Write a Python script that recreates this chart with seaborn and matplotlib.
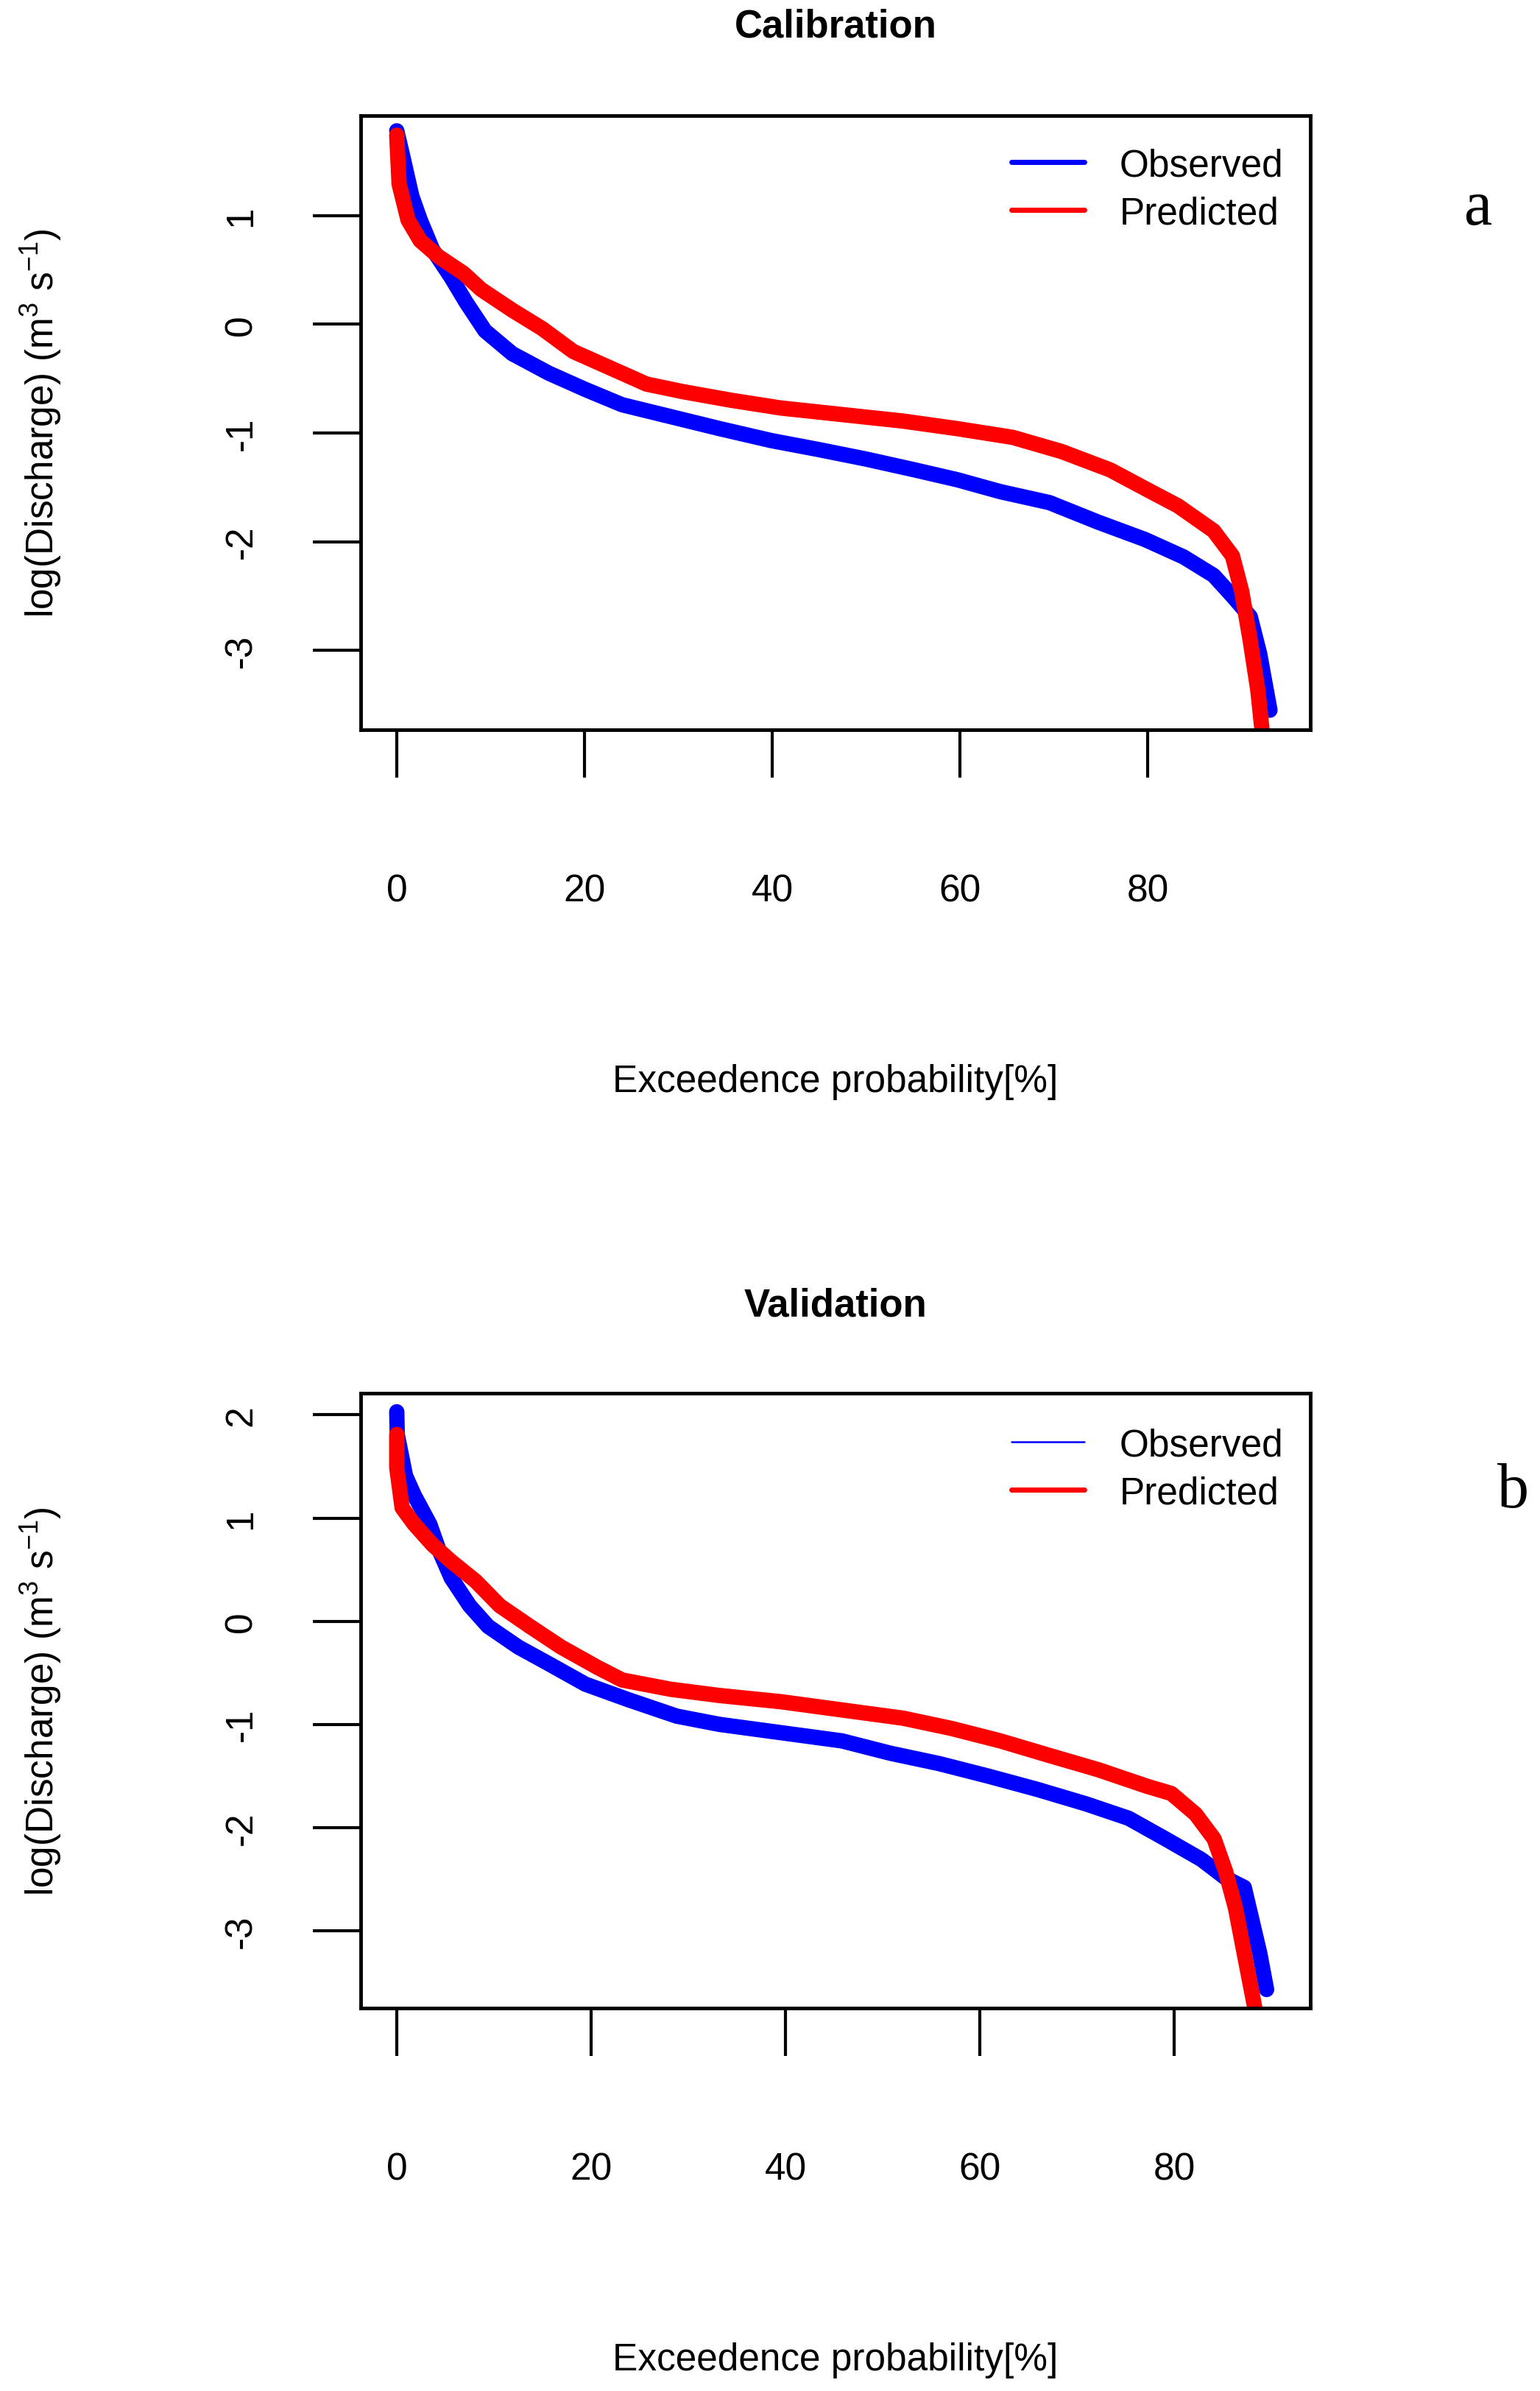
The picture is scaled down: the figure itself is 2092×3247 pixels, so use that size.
import matplotlib
matplotlib.use("Agg")
import matplotlib.pyplot as plt
from matplotlib.lines import Line2D
import seaborn as sns

# ── DATA ────────────────────────────────────────────────────────
# Calibration panel
cal_obs_x = [0, 0.6, 1.6, 2.5, 3.8, 5.8, 7.4, 9.4, 12.3, 16.2, 20.1, 24.0, 29.2,
             34.4, 39.9, 44.8, 50.0, 55.2, 59.7, 64.3, 69.5, 74.7, 79.7, 83.8,
             87.0, 89.0, 90.9, 91.9, 93.0]
cal_obs_y = [1.78, 1.56, 1.18, 0.96, 0.69, 0.43, 0.20, -0.06, -0.27, -0.45, -0.60,
             -0.74, -0.85, -0.96, -1.07, -1.15, -1.24, -1.34, -1.43, -1.54, -1.64,
             -1.82, -1.98, -2.14, -2.31, -2.50, -2.69, -3.03, -3.55]
cal_pred_x = [0, 0.25, 1.2, 2.5, 4.5, 7.1, 9.0, 12.3, 15.5, 18.8, 22.7, 26.6, 30.5,
              35.7, 40.9, 47.4, 53.9, 59.7, 65.6, 70.8, 76.0, 79.9, 83.2, 87.0,
              89.0, 90.0, 90.9, 91.7, 92.3]
cal_pred_y = [1.74, 1.29, 0.96, 0.77, 0.62, 0.47, 0.32, 0.13, -0.04, -0.25, -0.40,
              -0.55, -0.62, -0.70, -0.77, -0.83, -0.89, -0.96, -1.04, -1.17, -1.34,
              -1.52, -1.67, -1.90, -2.13, -2.46, -2.91, -3.36, -3.85]

# Validation panel
val_obs_x = [0, 0.05, 0.9, 1.8, 3.4, 4.3, 5.6, 7.5, 9.4, 12.5, 15.6, 19.4, 23.8,
             28.8, 33.2, 39.5, 45.8, 50.8, 55.8, 60.8, 65.9, 70.9, 75.3, 79.1,
             82.8, 85.3, 87.2, 87.8, 88.8, 89.5]
val_obs_y = [2.03, 1.81, 1.41, 1.22, 0.94, 0.70, 0.42, 0.15, -0.05, -0.25, -0.41,
             -0.61, -0.76, -0.92, -1.00, -1.08, -1.16, -1.28, -1.38, -1.50, -1.63,
             -1.77, -1.91, -2.11, -2.31, -2.49, -2.58, -2.82, -3.22, -3.57]
val_pred_x = [0, 0, 0.55, 1.8, 3.7, 5.6, 8.1, 10.6, 13.7, 16.9, 20.7, 23.2, 28.2,
              33.2, 39.5, 45.8, 52.1, 57.1, 62.1, 67.1, 72.2, 77.2, 79.7, 82.2,
              84.1, 85.3, 86.3, 87.2, 88.5]
val_pred_y = [1.81, 1.49, 1.10, 0.94, 0.74, 0.58, 0.39, 0.15, -0.05, -0.25, -0.45,
              -0.57, -0.66, -0.72, -0.78, -0.86, -0.94, -1.04, -1.16, -1.30, -1.44,
              -1.60, -1.67, -1.87, -2.11, -2.43, -2.78, -3.22, -3.85]

x_ticks = [0, 20, 40, 60, 80]
cal_y_ticks = [-3, -2, -1, 0, 1]
val_y_ticks = [-3, -2, -1, 0, 1, 2]

series_labels = ["Observed", "Predicted"]
series_colors = ["#0000FF", "#FF0000"]

# ── STYLE ───────────────────────────────────────────────────────
sns.set_style("white")
plt.rcParams["font.family"] = ["Liberation Sans", "DejaVu Sans"]
plt.rcParams["mathtext.fontset"] = "custom"
plt.rcParams["mathtext.rm"] = "Liberation Sans"
plt.rcParams["mathtext.it"] = "Liberation Sans:italic"
plt.rcParams["mathtext.bf"] = "Liberation Sans:bold"
for key in ["text.color", "axes.labelcolor", "xtick.color", "ytick.color",
            "axes.edgecolor"]:
    plt.rcParams[key] = "black"

FS = 37
W, H = 2092, 3248
fig = plt.figure(figsize=(W / 100, H / 100), dpi=100)
fig.patch.set_facecolor("white")


def add_panel(rect, obs_x, obs_y, pred_x, pred_y, xlim, ylim, yticks,
              title, title_y, legend_top, obs_legend_lw, tag, tag_xy):
    ax = fig.add_axes(rect)
    sns.lineplot(x=obs_x, y=obs_y, ax=ax, color=series_colors[0], lw=15,
                 sort=False, estimator=None, solid_capstyle="round")
    sns.lineplot(x=pred_x, y=pred_y, ax=ax, color=series_colors[1], lw=15,
                 sort=False, estimator=None, solid_capstyle="round")
    ax.set_xlim(*xlim)
    ax.set_ylim(*ylim)
    ax.set_xticks(x_ticks)
    ax.set_yticks(yticks)
    ax.set_xticklabels([str(t) for t in x_ticks])
    ax.set_yticklabels([str(t) for t in yticks], rotation=90, va="center")

    for sp in ax.spines.values():
        sp.set_visible(True)
        sp.set_linewidth(3.5)
        sp.set_color("black")
    ax.tick_params(axis="both", direction="out", length=47, width=3,
                   colors="black", labelsize=FS, bottom=True, left=True)
    ax.tick_params(axis="x", pad=93)
    ax.tick_params(axis="y", pad=52)

    ax.set_title(title, fontsize=38, fontweight="bold", y=title_y,
                 pad=0, va="center", color="black")
    ax.set_xlabel("Exceedence probability[%]", fontsize=FS)
    ax.xaxis.set_label_coords(0.5, -0.572)
    ax.xaxis.label.set_va("center")
    ax.set_ylabel("log(Discharge) (m$^{3}$ s$^{-1}$)", fontsize=FS)
    ax.yaxis.set_label_coords(-0.337, 0.5)
    ax.yaxis.label.set_va("center")

    handles = [Line2D([0], [0], color=series_colors[0], lw=obs_legend_lw),
               Line2D([0], [0], color=series_colors[1], lw=5)]
    ax.legend(handles, series_labels, loc="upper left",
              bbox_to_anchor=(0.6853, legend_top), frameon=False,
              fontsize=FS, handlelength=1.92, handletextpad=0.93,
              labelspacing=0.31, borderpad=0, borderaxespad=0,
              labelcolor="black")

    fig.text(tag_xy[0], tag_xy[1], tag, fontsize=62,
             family=["Liberation Serif", "DejaVu Serif"],
             ha="center", va="baseline", color="black")
    return ax


add_panel([490 / W, 1 - 992 / H, 1290 / W, 834 / H],
          cal_obs_x, cal_obs_y, cal_pred_x, cal_pred_y,
          (-3.84, 97.3), (-3.73, 1.92), cal_y_ticks,
          "Calibration", 1.146, 0.948, 5, "a", (2008 / W, 1 - 305 / H))

add_panel([490 / W, 1 - 2728 / H, 1290 / W, 835 / H],
          val_obs_x, val_obs_y, val_pred_x, val_pred_y,
          (-3.71, 94.0), (-3.75, 2.21), val_y_ticks,
          "Validation", 1.143, 0.9445, 1.8, "b", (2055 / W, 1 - 2047 / H))

fig.savefig("out.png", dpi=100, facecolor="white")
